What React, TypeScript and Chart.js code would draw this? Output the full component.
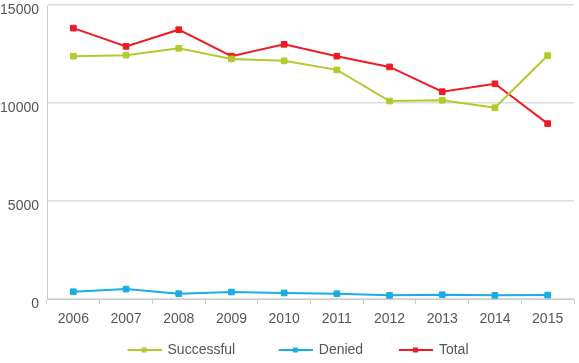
import React, { useEffect, useRef } from "react";
import { Chart, registerables } from "chart.js";

Chart.register(...registerables);

const years = ["2006", "2007", "2008", "2009", "2010", "2011", "2012", "2013", "2014", "2015"];
const successful = [12390, 12440, 12790, 12250, 12150, 11690, 10100, 10140, 9760, 12420];
const denied = [370, 505, 270, 355, 310, 270, 185, 220, 185, 200];
const total = [13820, 12890, 13740, 12390, 12995, 12390, 11840, 10575, 10980, 8950];
const seriesNames = ["Successful", "Denied", "Total"];
const seriesColors = ["#afcb2c", "#1aade4", "#ed1c24"];
const legendTrailing = ["    ", "  ", ""];

const ICON_LEAD = 18;
const ICON_LINE = 33;

function makeLegendIcon(color: string): HTMLCanvasElement {
  const c = document.createElement("canvas");
  c.width = ICON_LEAD + ICON_LINE + 2;
  c.height = 8;
  const ctx = c.getContext("2d")!;
  ctx.strokeStyle = color;
  ctx.lineWidth = 2;
  ctx.beginPath();
  ctx.moveTo(ICON_LEAD + 1, 4);
  ctx.lineTo(ICON_LEAD + ICON_LINE + 2, 4);
  ctx.stroke();
  ctx.fillStyle = color;
  ctx.fillRect(ICON_LEAD + 15, 1.5, 5, 5);
  return c;
}

export default function App() {
  const ref = useRef<HTMLCanvasElement>(null);
  useEffect(() => {
    if (!ref.current) return;
    const font = "'Liberation Sans', Arial, Helvetica, sans-serif";
    const icons = seriesColors.map(makeLegendIcon);
    const values = [successful, denied, total];
    const chart = new Chart(ref.current, {
      type: "line",
      data: {
        labels: years,
        datasets: seriesNames.map((name, i) => ({
          label: name,
          data: values[i],
          borderColor: seriesColors[i],
          backgroundColor: seriesColors[i],
          borderWidth: 2,
          pointStyle: "rect",
          pointRadius: 4,
          pointBorderWidth: 1,
          pointBackgroundColor: seriesColors[i],
          pointBorderColor: seriesColors[i],
          tension: 0,
          fill: false,
        })),
      },
      options: {
        animation: false,
        responsive: false,
        maintainAspectRatio: false,
        layout: { padding: { left: 0, right: 1, top: 3, bottom: 0 } },
        plugins: {
          tooltip: { enabled: false },
          legend: {
            position: "bottom",
            maxHeight: 30,
            labels: {
              usePointStyle: true,
              pointStyleWidth: ICON_LEAD + ICON_LINE,
              padding: 10,
              color: "#555",
              font: { family: font, size: 14 },
              generateLabels: (ch: any) => {
                const base = Chart.defaults.plugins.legend.labels.generateLabels(ch);
                return base.map((item: any, i: number) => ({
                  ...item,
                  text: item.text + legendTrailing[i],
                  pointStyle: icons[i],
                }));
              },
            },
          },
        },
        scales: {
          x: {
            offset: true,
            grid: {
              offset: true,
              drawOnChartArea: false,
              drawTicks: true,
              tickLength: 5,
              color: "#cccccc",
            },
            border: { display: true, color: "#cccccc", width: 1 },
            ticks: {
              color: "#555",
              font: { family: font, size: 14 },
              padding: 7,
              maxRotation: 0,
              autoSkip: false,
            },
            afterFit: (s: any) => {
              s.height = 34;
              s.paddingLeft = 0;
              s.paddingRight = 0;
            },
          },
          y: {
            min: 0,
            max: 15000,
            ticks: {
              stepSize: 5000,
              color: "#555",
              font: { family: font, size: 14 },
              padding: 8,
              labelOffset: 5,
              callback: (v: any) => String(v),
            },
            grid: {
              drawTicks: false,
              color: "#dddddd",
              lineWidth: 1.5,
            },
            border: { display: true, color: "#cccccc", width: 1 },
            afterFit: (s: any) => {
              s.width = 47;
              s.paddingTop = 0;
              s.paddingBottom = 0;
            },
          },
        },
      },
    });
    return () => chart.destroy();
  }, []);
  return (
    <div style={{ position: "absolute", left: 0, top: 0, width: 579, height: 363, background: "#fff" }}>
      <canvas ref={ref} width={579} height={363} style={{ display: "block" }} />
    </div>
  );
}
